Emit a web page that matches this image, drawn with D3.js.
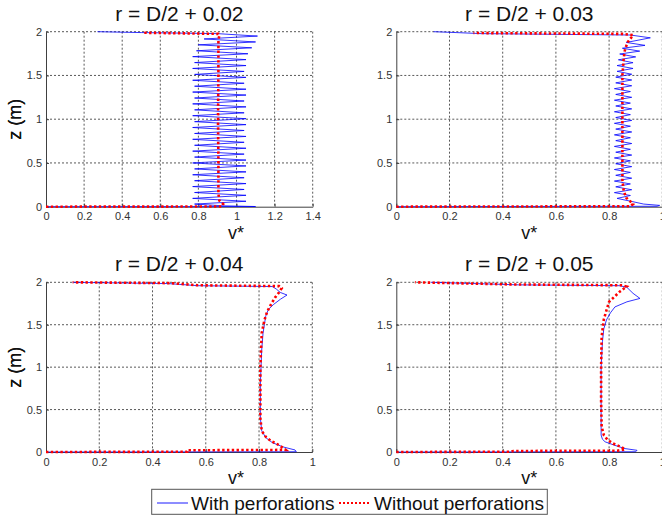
<!DOCTYPE html>
<html><head><meta charset="utf-8">
<script src="https://cdn.jsdelivr.net/npm/d3@7/dist/d3.min.js"></script>
<style>body{margin:0;background:#fff;overflow:hidden}</style>
</head><body>
<svg id="c" width="662" height="517"></svg>
<script>
// ---------- data ----------
const titles = ["r = D/2 + 0.02", "r = D/2 + 0.03", "r = D/2 + 0.04", "r = D/2 + 0.05"];
const xTicksWide = [0, 0.2, 0.4, 0.6, 0.8, 1, 1.2, 1.4];
const xTicksUnit = [0, 0.2, 0.4, 0.6, 0.8, 1];
const yTicks = [0, 0.5, 1, 1.5, 2];
const legendLabels = ["With perforations", "Without perforations"];
const xLabel = "v*";
const yLabel = "z (m)";

// [v*, z] pairs
const p1With = [
 [0.00,0.000],[1.10,0.002],[0.93,0.010],[0.78,0.030],[1.05,0.062],[0.77,0.095],[1.05,0.130],[0.78,0.162],
 [1.04,0.197],[0.77,0.230],[1.05,0.264],[0.78,0.297],[1.04,0.331],[0.77,0.365],[1.05,0.398],[0.78,0.432],
 [1.05,0.466],[0.77,0.500],[1.05,0.533],[0.78,0.567],[1.04,0.601],[0.77,0.635],[1.05,0.668],[0.78,0.702],
 [1.04,0.736],[0.77,0.770],[1.05,0.803],[0.78,0.837],[1.04,0.871],[0.77,0.905],[1.05,0.938],[0.78,0.972],
 [1.05,1.006],[0.77,1.040],[1.04,1.073],[0.78,1.107],[1.05,1.141],[0.77,1.175],[1.04,1.208],[0.78,1.242],
 [1.05,1.276],[0.77,1.310],[1.05,1.343],[0.78,1.377],[1.04,1.411],[0.77,1.445],[1.05,1.478],[0.78,1.512],
 [1.04,1.546],[0.77,1.580],[1.05,1.613],[0.78,1.647],[1.05,1.681],[0.77,1.715],[1.06,1.748],[0.79,1.782],
 [1.08,1.816],[0.80,1.850],[1.10,1.883],[0.83,1.917],[1.11,1.950],[0.90,1.978],[0.50,1.990],[0.27,2.000]
];
const p1Without = [
 [0.00,0.000],[0.92,0.002],[0.93,0.030],[0.91,0.070],[0.905,0.150],[0.905,0.500],[0.903,1.000],
 [0.905,1.500],[0.905,1.900],[0.91,1.960],[0.905,1.975],[0.51,1.988]
];
const p2With = [
 [0.00,0.000],[0.98,0.005],[0.99,0.015],[0.93,0.030],[0.885,0.060],[0.83,0.095],
 [0.88,0.128],[0.82,0.161],[0.885,0.194],[0.825,0.227],[0.88,0.260],[0.82,0.293],[0.885,0.326],[0.825,0.359],
 [0.88,0.392],[0.82,0.425],[0.885,0.458],[0.825,0.491],[0.88,0.524],[0.82,0.557],[0.885,0.590],[0.825,0.623],
 [0.88,0.656],[0.82,0.689],[0.885,0.722],[0.825,0.755],[0.88,0.788],[0.82,0.821],[0.885,0.854],[0.825,0.887],
 [0.88,0.920],[0.82,0.953],[0.885,0.986],[0.825,1.019],[0.88,1.052],[0.82,1.085],[0.885,1.118],[0.825,1.151],
 [0.88,1.184],[0.82,1.217],[0.885,1.250],[0.825,1.283],[0.88,1.316],[0.82,1.349],[0.885,1.382],[0.825,1.415],
 [0.885,1.448],[0.825,1.481],[0.885,1.514],[0.83,1.547],[0.89,1.580],[0.83,1.613],[0.89,1.646],[0.835,1.679],
 [0.90,1.712],[0.84,1.745],[0.915,1.778],[0.85,1.811],[0.935,1.844],[0.865,1.877],[0.955,1.930],[0.88,1.962],
 [0.32,1.978],[0.225,1.990],[0.14,2.000]
];
const p2Without = [
 [0.00,0.000],[0.88,0.005],[0.89,0.030],[0.88,0.060],[0.865,0.100],[0.855,0.180],[0.85,0.300],[0.85,1.000],
 [0.85,1.500],[0.855,1.700],[0.86,1.800],[0.87,1.880],[0.885,1.940],[0.89,1.962],[0.85,1.975],[0.29,1.985]
];
const p3With = [
 [0.00,0.000],[0.94,0.003],[0.935,0.024],[0.89,0.060],[0.85,0.110],[0.825,0.170],[0.81,0.250],[0.805,0.400],
 [0.805,0.800],[0.81,1.200],[0.815,1.400],[0.82,1.500],[0.825,1.600],[0.835,1.680],[0.855,1.740],[0.88,1.800],
 [0.905,1.850],[0.88,1.880],[0.865,1.920],[0.85,1.950],[0.57,1.960],[0.46,1.985],[0.10,2.000]
];
const p3Without = [
 [0.00,0.000],[0.53,0.003],[0.53,0.020],[0.90,0.025],[0.89,0.050],[0.87,0.090],[0.845,0.130],[0.825,0.180],
 [0.81,0.250],[0.805,0.400],[0.805,1.000],[0.81,1.400],[0.82,1.550],[0.83,1.650],[0.845,1.740],[0.86,1.820],
 [0.875,1.880],[0.885,1.930],[0.875,1.955],[0.57,1.965],[0.47,1.990],[0.10,2.000]
];
const p4With = [
 [0.00,0.000],[0.90,0.003],[0.905,0.020],[0.86,0.040],[0.82,0.080],[0.785,0.120],[0.775,0.150],[0.77,0.200],
 [0.77,0.600],[0.77,1.000],[0.775,1.300],[0.78,1.450],[0.79,1.556],[0.805,1.640],[0.822,1.710],[0.867,1.770],
 [0.916,1.810],[0.89,1.870],[0.867,1.940],[0.84,1.960],[0.46,1.970],[0.13,2.000]
];
const p4Without = [
 [0.00,0.000],[0.43,0.003],[0.44,0.012],[0.83,0.015],[0.86,0.030],[0.845,0.060],[0.815,0.100],[0.795,0.140],
 [0.78,0.200],[0.772,0.300],[0.77,0.600],[0.77,1.000],[0.772,1.360],[0.78,1.560],[0.79,1.670],[0.80,1.770],
 [0.82,1.830],[0.84,1.890],[0.866,1.950],[0.85,1.965],[0.43,1.975],[0.07,2.000]
];

// ---------- layout ----------
const FONT = "'Liberation Sans', Arial, Helvetica, sans-serif";
const BLUE = "#0000ff", RED = "#ff0000";
const panels = [
  {title: titles[0], xMax: 1.4, ticks: xTicksWide, w: p1With, wo: p1Without, L: 46,    R: 312.7, T: 31.7,  B: 206.7, labX: 236},
  {title: titles[1], xMax: 1.0, ticks: xTicksUnit, w: p2With, wo: p2Without, L: 396.3, R: 662.3, T: 31.7,  B: 206.7, labX: 529.3},
  {title: titles[2], xMax: 1.0, ticks: xTicksUnit, w: p3With, wo: p3Without, L: 46,    R: 312.3, T: 282.3, B: 452,   labX: 236},
  {title: titles[3], xMax: 1.0, ticks: xTicksUnit, w: p4With, wo: p4Without, L: 396.3, R: 662.3, T: 282.3, B: 452,   labX: 529.3}
];

const svg = d3.select("#c");
const fmt = d => d3.format("~g")(d);

panels.forEach((p, i) => {
  const x = d3.scaleLinear().domain([0, p.xMax]).range([p.L, p.R]);
  const y = d3.scaleLinear().domain([0, 2]).range([p.B, p.T]);
  const g = svg.append("g");

  const clipId = "clip" + i;
  svg.append("clipPath").attr("id", clipId).append("rect")
    .attr("x", p.L - 1).attr("y", p.T - 2).attr("width", p.R - p.L + 2).attr("height", p.B - p.T + 4);

  // grid (dotted)
  const grid = g.append("g").attr("stroke", "#111").attr("stroke-width", 0.7).attr("stroke-dasharray", "2,2").attr("fill", "none");
  p.ticks.filter(t => t > 0).forEach(t => {
    grid.append("line").attr("x1", x(t)).attr("x2", x(t)).attr("y1", p.T).attr("y2", p.B);
  });
  yTicks.filter(t => t > 0).forEach(t => {
    grid.append("line").attr("x1", p.L).attr("x2", p.R).attr("y1", y(t)).attr("y2", y(t));
  });

  // axes via d3.axis
  const xAxis = d3.axisBottom(x).tickValues(p.ticks).tickFormat(fmt).tickSizeInner(-3).tickSizeOuter(0).tickPadding(6);
  const yAxis = d3.axisLeft(y).tickValues(yTicks).tickFormat(fmt).tickSizeInner(-3).tickSizeOuter(0).tickPadding(6);
  const gx = g.append("g").attr("transform", `translate(0,${p.B})`).call(xAxis);
  const gy = g.append("g").attr("transform", `translate(${p.L},0)`).call(yAxis);
  [gx, gy].forEach(a => {
    a.select(".domain").attr("stroke", "#404040").attr("stroke-width", 1);
    a.selectAll(".tick line").attr("stroke", "#404040");
    a.selectAll("text").attr("font-family", FONT).attr("font-size", 11).attr("fill", "#333");
  });
  gx.selectAll("text").attr("dy", "0.71em").attr("y", 6);
  gy.selectAll("text").attr("x", -4);

  // lines
  const line = d3.line().x(d => x(d[0])).y(d => y(d[1]));
  const plot = g.append("g").attr("clip-path", `url(#${clipId})`);
  plot.append("path").datum(p.w).attr("d", line)
    .attr("fill", "none").attr("stroke", BLUE).attr("stroke-width", 0.8).attr("stroke-linejoin", "round");
  plot.append("path").datum(p.wo).attr("d", line)
    .attr("fill", "none").attr("stroke", RED).attr("stroke-width", 2.6).attr("stroke-dasharray", "2.4,2.4");

  // title
  g.append("text").attr("x", (p.L + p.R) / 2).attr("y", p.T - 11)
    .attr("text-anchor", "middle").attr("font-family", FONT).attr("font-size", 21).attr("fill", "#111")
    .text(p.title);
  // x label
  g.append("text").attr("x", p.labX).attr("y", p.B + 32)
    .attr("text-anchor", "middle").attr("font-family", FONT).attr("font-size", 18).attr("fill", "#111")
    .text(xLabel);
  // y label
  g.append("text").attr("transform", `translate(21,${(p.T + p.B) / 2}) rotate(-90)`)
    .attr("text-anchor", "middle").attr("font-family", FONT).attr("font-size", 18).attr("fill", "#111")
    .text(yLabel);
});

// legend
const lg = svg.append("g");
lg.append("rect").attr("x", 151.7).attr("y", 489.3).attr("width", 395.6).attr("height", 25)
  .attr("fill", "#fff").attr("stroke", "#555").attr("stroke-width", 1);
lg.append("line").attr("x1", 157).attr("x2", 188).attr("y1", 503).attr("y2", 503)
  .attr("stroke", BLUE).attr("stroke-width", 0.9);
lg.append("text").attr("x", 191).attr("y", 509.5).attr("font-family", FONT).attr("font-size", 19).attr("fill", "#111").text(legendLabels[0]);
lg.append("line").attr("x1", 339).attr("x2", 370).attr("y1", 503).attr("y2", 503)
  .attr("stroke", RED).attr("stroke-width", 2).attr("stroke-dasharray", "2,2");
lg.append("text").attr("x", 374).attr("y", 509.5).attr("font-family", FONT).attr("font-size", 19).attr("fill", "#111").text(legendLabels[1]);
</script>
</body></html>
